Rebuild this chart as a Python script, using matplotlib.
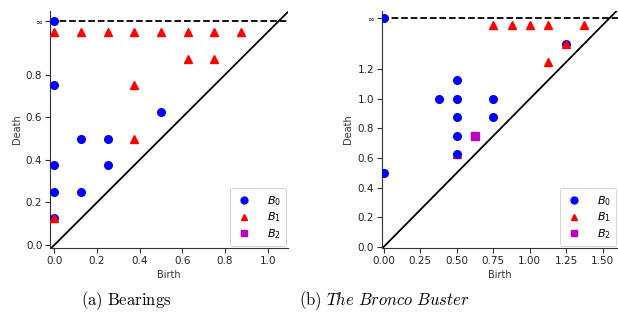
import numpy as np
import matplotlib
matplotlib.use("Agg")
import matplotlib.pyplot as plt

plt.rcParams['mathtext.fontset'] = 'dejavusans'
plt.rcParams['font.family'] = ['DejaVu Sans']

# ---- Panel (a) Bearings ----
a_b0_birth = [0.0, 0.0, 0.0, 0.0, 0.125, 0.125, 0.25, 0.25, 0.5]
a_b0_death = [0.75, 0.375, 0.25, 0.125, 0.5, 0.25, 0.5, 0.375, 0.625]
a_b0_inf_birth = [0.0]
a_b1_birth = [0.0, 0.125, 0.25, 0.375, 0.5, 0.625, 0.75, 0.875, 0.625, 0.75, 0.375, 0.375, 0.0]
a_b1_death = [1.0, 1.0, 1.0, 1.0, 1.0, 1.0, 1.0, 1.0, 0.875, 0.875, 0.75, 0.5, 0.125]
a_inf = 1.05
a_xticks = [0.0, 0.2, 0.4, 0.6, 0.8, 1.0]
a_yticks = [0.0, 0.2, 0.4, 0.6, 0.8]

# ---- Panel (b) The Bronco Buster ----
b_b0_birth = [0.0, 0.375, 0.5, 0.5, 0.5, 0.5, 0.5, 0.75, 0.75, 1.25]
b_b0_death = [0.5, 1.0, 1.125, 1.0, 0.875, 0.75, 0.625, 1.0, 0.875, 1.375]
b_b0_inf_birth = [0.0]
b_b1_under_birth = [0.5]
b_b1_under_death = [0.625]
b_b1_birth = [0.75, 0.875, 1.0, 1.125, 1.375, 1.125, 1.25]
b_b1_death = [1.5, 1.5, 1.5, 1.5, 1.5, 1.25, 1.375]
b_b2_birth = [0.625]
b_b2_death = [0.75]
b_inf = 1.545
b_xticks = [0.0, 0.25, 0.5, 0.75, 1.0, 1.25, 1.5]
b_yticks = [0.0, 0.2, 0.4, 0.6, 0.8, 1.0, 1.2]

BLUE = '#0000ff'
RED = '#ff0000'
MAG = '#bf00bf'
MS = 5.5
FS = 7.5

fig = plt.figure(figsize=(6.18, 3.23), dpi=100)
W, H = 618, 323

def mkax(l, r, b, t):
    return fig.add_axes([l / W, 1 - b / H, (r - l) / W, (b - t) / H])

axa = mkax(50, 288, 248, 11)
axb = mkax(381.7, 618, 248, 11)


def style(ax, xlim, ylim, inf, xticks, yticks, xfmt):
    ax.set_xlim(*xlim)
    ax.set_ylim(*ylim)
    ax.plot([xlim[0], xlim[1]], [inf, inf], '--', color='black', lw=1.3, zorder=2)
    d = np.array([min(xlim[0], ylim[0]), max(xlim[1], ylim[1])])
    ax.plot(d, d, '-', color='black', lw=1.3, zorder=2)
    for s in ['top', 'right']:
        ax.spines[s].set_visible(False)
    for s in ['left', 'bottom']:
        ax.spines[s].set_linewidth(0.8)
        ax.spines[s].set_color('#333333')
    ax.set_xticks(xticks)
    ax.set_xticklabels([xfmt.format(v) for v in xticks], fontsize=FS, color='#222222')
    ax.set_yticks(list(yticks) + [inf])
    labs = ['{:.1f}'.format(v) for v in yticks] + ['∞']
    ax.set_yticklabels(labs, color='#222222')
    for i, t in enumerate(ax.get_yticklabels()):
        t.set_fontsize(FS if i < len(yticks) else 6)
    ax.tick_params(length=3.5, width=0.8, pad=2, color='#333333')
    ax.set_xlabel('Birth', fontsize=7, labelpad=3, color='#333333')
    ax.set_ylabel('Death', fontsize=7, labelpad=3, color='#333333')


style(axa, (-0.02, 1.095), (-0.014, 1.099), a_inf, a_xticks, a_yticks, '{:.1f}')
style(axb, (-0.015, 1.605), (-0.009, 1.595), b_inf, b_xticks, b_yticks, '{:.2f}')

# Panel a points
axa.plot(a_b0_birth + a_b0_inf_birth, a_b0_death + [a_inf] * len(a_b0_inf_birth),
         'o', color=BLUE, ms=MS, ls='none', zorder=3, label=r'$B_0$')
axa.plot(a_b1_birth, a_b1_death, '^', color=RED, ms=MS, ls='none', zorder=4, label=r'$B_1$')
axa.plot([], [], 's', color=MAG, ms=MS, ls='none', label=r'$B_2$')

# Panel b points
axb.plot(b_b1_under_birth, b_b1_under_death, '^', color=RED, ms=MS, ls='none', zorder=3)
axb.plot(b_b0_birth + b_b0_inf_birth, b_b0_death + [b_inf] * len(b_b0_inf_birth),
         'o', color=BLUE, ms=MS, ls='none', zorder=4, label=r'$B_0$')
axb.plot(b_b1_birth, b_b1_death, '^', color=RED, ms=MS, ls='none', zorder=5, label=r'$B_1$')
axb.plot(b_b2_birth, b_b2_death, 's', color=MAG, ms=MS, ls='none', zorder=5, label=r'$B_2$')

for ax in (axa, axb):
    leg = ax.legend(loc='lower right', fontsize=8, borderaxespad=0.15, handletextpad=1.3,
                    labelspacing=0.25, borderpad=0.5, handlelength=1.5, framealpha=1,
                    markerscale=0.9)
    leg.get_frame().set_linewidth(0.6)
    leg.get_frame().set_edgecolor('#cccccc')
    leg.set_zorder(10)

fig.text(126 / W, 1 - 301 / H, r'$\mathrm{(a)\ Bearings}$', fontsize=12, ha='center',
         va='center', math_fontfamily='cm')
fig.text(384 / W, 1 - 301 / H, r'$\mathrm{(b)}\ \mathit{The\ Bronco\ Buster}$', fontsize=12,
         ha='center', va='center', math_fontfamily='cm')

fig.savefig('out.png', dpi=100)
